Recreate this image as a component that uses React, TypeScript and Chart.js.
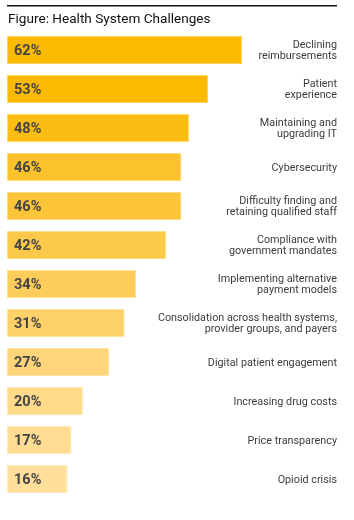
import React, { useEffect, useRef } from "react";
import { Chart, registerables } from "chart.js";

Chart.register(...registerables);

const titleText = "Figure: Health System Challenges";

const categories: string[][] = [
  ["Declining", "reimbursements"],
  ["Patient", "experience"],
  ["Maintaining and", "upgrading IT"],
  ["Cybersecurity"],
  ["Difficulty finding and", "retaining qualified staff"],
  ["Compliance with", "government mandates"],
  ["Implementing alternative", "payment models"],
  ["Consolidation across health systems,", "provider groups, and payers"],
  ["Digital patient engagement"],
  ["Increasing drug costs"],
  ["Price transparency"],
  ["Opioid crisis"],
];

const values: number[] = [62, 53, 48, 46, 46, 42, 34, 31, 27, 20, 17, 16];

const barColors: string[] = [
  "#FBB900", "#FBB900", "#FBBD12", "#FCC22C", "#FCC439", "#FDC94B",
  "#FDCD5B", "#FED169", "#FED579", "#FFDA88", "#FFDD92", "#FFDF9A",
];

const borderColors: string[] = [
  "#FFD666", "#FFD666", "#FFD870", "#FFDA7A", "#FFDB80", "#FFDE8A",
  "#FFE094", "#FFE29C", "#FFE5A6", "#FFE8B0", "#FFEAB8", "#FFECBE",
];

const FONT = "Roboto, 'Liberation Sans', sans-serif";

const labelsPlugin = {
  id: "customLabels",
  afterDraw(chart: any) {
    const { ctx } = chart;
    const meta = chart.getDatasetMeta(0);
    const yScale = chart.scales.y;
    ctx.save();
    // rule and title
    ctx.fillStyle = "#111111";
    ctx.fillRect(7, 5, 330, 1.5);
    ctx.font = `13.6px ${FONT}`;
    ctx.textAlign = "left";
    ctx.textBaseline = "alphabetic";
    ctx.fillText(titleText, 8, 23);
    // value labels
    ctx.font = `bold 14.5px ${FONT}`;
    ctx.fillStyle = "#444444";
    ctx.textBaseline = "middle";
    meta.data.forEach((bar: any, i: number) => {
      ctx.fillText(`${values[i]}%`, chart.chartArea.left + 7, bar.y + 1);
    });
    // category labels
    ctx.font = `10.8px ${FONT}`;
    ctx.fillStyle = "#3c3c40";
    ctx.textAlign = "right";
    categories.forEach((lines, i) => {
      const cy = yScale.getPixelForValue(i);
      const lh = 11.5;
      const start = cy - ((lines.length - 1) * lh) / 2;
      lines.forEach((ln, j) => {
        ctx.fillText(ln, 337, start + j * lh + 1);
      });
    });
    ctx.restore();
  },
};

export default function App() {
  const ref = useRef<HTMLCanvasElement | null>(null);
  useEffect(() => {
    if (!ref.current) return;
    const chart = new Chart(ref.current, {
      type: "bar",
      data: {
        labels: categories.map((c) => c.join(" ")),
        datasets: [
          {
            data: values,
            backgroundColor: barColors,
            borderColor: borderColors,
            borderWidth: 1,
            borderSkipped: false,
            categoryPercentage: 1,
            barPercentage: 0.72,
          },
        ],
      },
      options: {
        indexAxis: "y",
        animation: false,
        responsive: false,
        maintainAspectRatio: false,
        layout: { padding: { top: 30.5, bottom: 21.5, left: 7, right: 17 } },
        scales: {
          x: { display: false, min: 0, max: 87 },
          y: { display: false },
        },
        plugins: {
          legend: { display: false },
          tooltip: { enabled: false },
          title: { display: false },
        },
      },
      plugins: [labelsPlugin],
    });
    return () => chart.destroy();
  }, []);
  return (
    <div style={{ position: "absolute", left: 0, top: 0, width: 354, height: 520, background: "#fff" }}>
      <canvas ref={ref} width={354} height={520} style={{ width: 354, height: 520 }} />
    </div>
  );
}
